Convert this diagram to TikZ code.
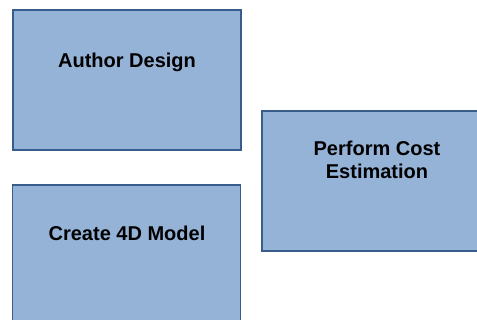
\documentclass[tikz,border=0pt]{standalone}
\usepackage{fontspec}
\setmainfont{Liberation Sans}
\definecolor{boxfill}{HTML}{95B3D7}
\definecolor{boxline}{HTML}{385D8A}
\begin{document}
\begin{tikzpicture}[x=1pt,y=-1pt,
  taskbox/.style={draw=boxline, fill=boxfill, line width=1.5pt, minimum width=228pt, minimum height=140pt, inner sep=0pt},
  tasklabel/.style={font=\fontsize{20}{23}\selectfont\bfseries, align=center, inner sep=0pt, text=black}]
\useasboundingbox (0,0) rectangle (477,320);
\clip (0,0) rectangle (477,320);
\node[taskbox] (design) at (127,80) {};
\node[taskbox] (model) at (126.5,255) {};
\node[taskbox] (cost) at (376,181) {};
\node[tasklabel, anchor=base] (designtext) at (127,67.7) {Author Design};
\node[tasklabel, anchor=base] (modeltext) at (127,240.7) {Create 4D Model};
\node[tasklabel, anchor=base] (costtext) at (377,179) {Perform Cost\\Estimation};
\end{tikzpicture}
\end{document}
